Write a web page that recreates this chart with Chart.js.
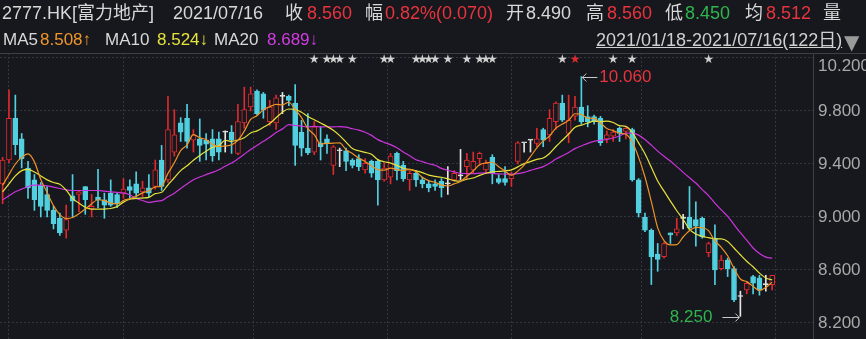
<!DOCTYPE html>
<html>
<head>
<meta charset="utf-8">
<script src="https://cdn.jsdelivr.net/npm/chart.js@4.4.1/dist/chart.umd.min.js"></script>
<style>
html, body { margin: 0; padding: 0; background: #16181d; }
#wrap { position: relative; width: 866px; height: 339px; overflow: hidden; background: #16181d; }
#kline { position: absolute; left: 0; top: 0; }
.t { position: absolute; white-space: nowrap; font: 18px "Liberation Sans", "Noto Sans CJK SC", sans-serif; line-height: 20px; color: #d8d8d8; }
.r1 { top: 3px; }
.r2 { top: 30px; font-size: 17px; }
.red { color: #e8343e; }
.grn { color: #2fb64e; }
.org { color: #f0962a; }
.yel { color: #e6e23c; }
.mag { color: #d33ce2; }
.rng { text-decoration: underline; color: #d0d0d0; font-size: 18px; }
.tri { color: #9a9a9a; font: 20px "DejaVu Sans"; }
</style>
</head>
<body>
<div id="wrap">
  <canvas id="kline" width="866" height="339"></canvas>

  <div class="t r1" style="left:2px">2777.HK[富力地产]</div>
  <div class="t r1" style="left:173px">2021/07/16</div>
  <div class="t r1" style="left:285px">收</div>
  <div class="t r1 red" style="left:307px">8.560</div>
  <div class="t r1" style="left:365px">幅</div>
  <div class="t r1 red" style="left:385px">0.82%(0.070)</div>
  <div class="t r1" style="left:506px">开</div>
  <div class="t r1" style="left:526px">8.490</div>
  <div class="t r1" style="left:586px">高</div>
  <div class="t r1 red" style="left:607px">8.560</div>
  <div class="t r1" style="left:665px">低</div>
  <div class="t r1 grn" style="left:685px">8.450</div>
  <div class="t r1" style="left:745px">均</div>
  <div class="t r1 red" style="left:766px">8.512</div>
  <div class="t r1" style="left:823px">量</div>

  <div class="t r2" style="left:3px">MA5</div>
  <div class="t r2 org" style="left:40px">8.508↑</div>
  <div class="t r2" style="left:105px">MA10</div>
  <div class="t r2 yel" style="left:157px">8.524↓</div>
  <div class="t r2" style="left:214px">MA20</div>
  <div class="t r2 mag" style="left:267px">8.689↓</div>
  <div class="t r2 rng" style="left:596px">2021/01/18-2021/07/16(122日)</div>
  <div class="t tri" style="left:844px;top:30px">▼</div>
</div>

<script>
// daily candles 2021/01/18 .. 2021/07/16 (122 trading days)
const opens = [
  9.25, 9.43, 9.745, 9.59, 9.37, 9.28, 9.24, 9.17, 9.05, 8.99,
  8.90, 9.16, 9.17, 9.23, 9.06, 9.15, 9.13, 9.18, 9.17, 9.18,
  9.23, 9.25, 9.19, 9.22, 9.23, 9.43, 9.28, 9.49, 9.71, 9.745,
  9.58, 9.59, 9.58, 9.59, 9.59, 9.64, 9.64, 9.48, 9.71, 9.83,
  9.95, 9.93, 9.72, 9.71, 9.91, 9.91, 9.86, 9.64, 9.52, 9.49,
  9.56, 9.59, 9.39, 9.50, 9.50, 9.43, 9.44, 9.355, 9.42, 9.42,
  9.28, 9.30, 9.48, 9.39, 9.28, 9.33, 9.28, 9.25, 9.25, 9.27,
  9.25, 9.28, 9.31, 9.38, 9.355, 9.44, 9.355, 9.45, 9.29, 9.29,
  9.29, 9.42, 9.56, 9.58, 9.555, 9.66, 9.62, 9.72, 9.86, 9.63,
  9.76, 9.83, 9.757, 9.757, 9.745, 9.59, 9.61, 9.67, 9.645, 9.66,
  9.28, 9.00, 8.90, 8.72, 8.70, 8.88, 8.88, 8.99, 9.00, 8.98,
  8.99, 8.73, 8.84, 8.61, 8.675, 8.61, 8.40, 8.45, 8.55, 8.54,
  8.49, 8.49
];
const highs = [
  9.45, 9.96, 9.92, 9.63, 9.42, 9.32, 9.26, 9.23, 9.08, 9.03,
  9.09, 9.32, 9.20, 9.23, 9.17, 9.36, 9.18, 9.28, 9.18, 9.29,
  9.28, 9.34, 9.27, 9.32, 9.43, 9.54, 9.91, 9.81, 9.75, 9.85,
  9.66, 9.74, 9.63, 9.66, 9.64, 9.65, 9.69, 9.85, 9.98, 9.98,
  9.96, 9.94, 9.88, 9.92, 9.94, 9.92, 10.00, 9.73, 9.78, 9.72,
  9.68, 9.62, 9.54, 9.52, 9.52, 9.44, 9.47, 9.44, 9.43, 9.43,
  9.41, 9.48, 9.49, 9.42, 9.35, 9.35, 9.30, 9.27, 9.28, 9.29,
  9.38, 9.35, 9.51, 9.48, 9.49, 9.49, 9.43, 9.47, 9.32, 9.38,
  9.34, 9.57, 9.56, 9.58, 9.67, 9.67, 9.81, 9.87, 9.92, 9.92,
  9.91, 10.06, 9.84, 9.77, 9.76, 9.65, 9.66, 9.68, 9.68, 9.67,
  9.29, 9.03, 8.91, 8.80, 8.81, 8.88, 8.99, 9.02, 9.23, 9.115,
  9.00, 8.81, 8.94, 8.71, 8.69, 8.625, 8.44, 8.51, 8.56, 8.56,
  8.56, 8.56
];
const lows = [
  9.10, 9.41, 9.47, 9.37, 9.14, 9.05, 9.00, 9.00, 8.91, 8.86,
  8.84, 9.00, 9.04, 9.02, 9.00, 9.07, 8.99, 9.08, 9.07, 9.14,
  9.14, 9.15, 9.15, 9.15, 9.21, 9.20, 9.26, 9.46, 9.57, 9.52,
  9.49, 9.42, 9.43, 9.42, 9.43, 9.49, 9.48, 9.47, 9.67, 9.80,
  9.77, 9.745, 9.69, 9.66, 9.78, 9.84, 9.39, 9.46, 9.47, 9.47,
  9.43, 9.48, 9.32, 9.38, 9.35, 9.37, 9.35, 9.33, 9.30, 9.09,
  9.27, 9.25, 9.28, 9.27, 9.20, 9.23, 9.22, 9.19, 9.20, 9.15,
  9.17, 9.27, 9.28, 9.29, 9.33, 9.39, 9.33, 9.25, 9.25, 9.24,
  9.23, 9.40, 9.49, 9.49, 9.53, 9.53, 9.57, 9.66, 9.72, 9.56,
  9.73, 9.70, 9.68, 9.70, 9.54, 9.56, 9.57, 9.57, 9.59, 9.27,
  9.00, 8.89, 8.49, 8.59, 8.69, 8.80, 8.86, 8.91, 8.90, 8.78,
  8.84, 8.70, 8.49, 8.60, 8.55, 8.36, 8.25, 8.42, 8.42, 8.41,
  8.44, 8.45
];
const closes = [
  9.43, 9.745, 9.545, 9.44, 9.22, 9.13, 9.08, 9.05, 8.95, 8.88,
  8.98, 9.12, 9.19, 9.13, 9.08, 9.13, 9.09, 9.09, 9.10, 9.21,
  9.20, 9.18, 9.22, 9.18, 9.355, 9.23, 9.66, 9.62, 9.64, 9.57,
  9.62, 9.54, 9.55, 9.46, 9.49, 9.64, 9.58, 9.72, 9.81, 9.93,
  9.78, 9.81, 9.83, 9.90, 9.91, 9.88, 9.54, 9.52, 9.485, 9.68,
  9.53, 9.56, 9.53, 9.50, 9.42, 9.39, 9.38, 9.405, 9.33, 9.28,
  9.37, 9.46, 9.35, 9.29, 9.33, 9.28, 9.25, 9.22, 9.23, 9.22,
  9.25, 9.33, 9.31, 9.43, 9.42, 9.48, 9.405, 9.33, 9.26, 9.26,
  9.32, 9.56, 9.56, 9.58, 9.59, 9.58, 9.745, 9.86, 9.73, 9.73,
  9.83, 9.72, 9.72, 9.72, 9.56, 9.62, 9.64, 9.63, 9.67, 9.28,
  9.03, 8.90, 8.70, 8.68, 8.80, 8.865, 8.91, 8.99, 8.915, 8.93,
  8.85, 8.80, 8.60, 8.675, 8.61, 8.375, 8.40, 8.50, 8.50, 8.45,
  8.49, 8.56
];
const ma5 = [
  9.24, 9.32, 9.40, 9.45, 9.476, 9.416, 9.283, 9.184, 9.086, 9.018,
  8.988, 8.996, 9.024, 9.06, 9.10, 9.13, 9.124, 9.104, 9.098, 9.124,
  9.138, 9.156, 9.182, 9.198, 9.227, 9.233, 9.329, 9.409, 9.501, 9.544,
  9.622, 9.598, 9.584, 9.548, 9.532, 9.536, 9.544, 9.578, 9.648, 9.736,
  9.764, 9.81, 9.832, 9.85, 9.846, 9.866, 9.812, 9.75, 9.667, 9.621,
  9.551, 9.555, 9.557, 9.56, 9.508, 9.48, 9.444, 9.419, 9.385, 9.357,
  9.353, 9.369, 9.358, 9.35, 9.36, 9.342, 9.30, 9.274, 9.262, 9.24,
  9.234, 9.25, 9.268, 9.308, 9.348, 9.394, 9.409, 9.413, 9.379, 9.347,
  9.315, 9.346, 9.392, 9.456, 9.522, 9.574, 9.611, 9.671, 9.701, 9.729,
  9.779, 9.774, 9.746, 9.744, 9.71, 9.668, 9.652, 9.634, 9.624, 9.568,
  9.45, 9.302, 9.116, 8.918, 8.822, 8.789, 8.791, 8.849, 8.896, 8.922,
  8.919, 8.897, 8.819, 8.771, 8.707, 8.612, 8.532, 8.512, 8.477, 8.445,
  8.468, 8.508
];
const ma10 = [
  9.19, 9.25, 9.31, 9.35, 9.36, 9.34, 9.31, 9.28, 9.26, 9.247,
  9.202, 9.14, 9.104, 9.073, 9.059, 9.059, 9.06, 9.064, 9.079, 9.112,
  9.134, 9.14, 9.143, 9.148, 9.176, 9.186, 9.243, 9.296, 9.35, 9.386,
  9.428, 9.464, 9.497, 9.525, 9.538, 9.579, 9.571, 9.581, 9.598, 9.634,
  9.65, 9.677, 9.705, 9.749, 9.791, 9.815, 9.811, 9.791, 9.759, 9.734,
  9.709, 9.684, 9.654, 9.614, 9.565, 9.516, 9.50, 9.488, 9.473, 9.433,
  9.417, 9.407, 9.389, 9.368, 9.359, 9.348, 9.335, 9.316, 9.306, 9.30,
  9.288, 9.275, 9.271, 9.285, 9.294, 9.314, 9.33, 9.341, 9.344, 9.348,
  9.355, 9.378, 9.403, 9.418, 9.435, 9.445, 9.479, 9.532, 9.579, 9.626,
  9.677, 9.693, 9.709, 9.723, 9.72, 9.724, 9.713, 9.69, 9.684, 9.639,
  9.559, 9.477, 9.375, 9.271, 9.195, 9.12, 9.047, 8.983, 8.907, 8.872,
  8.854, 8.844, 8.834, 8.834, 8.815, 8.766, 8.715, 8.666, 8.624, 8.576,
  8.54, 8.524
];
const ma20 = [
  9.13, 9.16, 9.19, 9.21, 9.23, 9.24, 9.24, 9.235, 9.225, 9.215,
  9.205, 9.20, 9.20, 9.20, 9.20, 9.20, 9.195, 9.19, 9.185, 9.18,
  9.168, 9.14, 9.124, 9.11, 9.118, 9.123, 9.152, 9.18, 9.215, 9.249,
  9.281, 9.302, 9.32, 9.337, 9.357, 9.383, 9.407, 9.439, 9.474, 9.51,
  9.539, 9.571, 9.601, 9.637, 9.665, 9.697, 9.691, 9.686, 9.679, 9.684,
  9.68, 9.681, 9.68, 9.682, 9.678, 9.666, 9.656, 9.64, 9.616, 9.584,
  9.563, 9.546, 9.522, 9.491, 9.462, 9.432, 9.418, 9.402, 9.39, 9.367,
  9.353, 9.341, 9.33, 9.327, 9.327, 9.331, 9.333, 9.329, 9.325, 9.324,
  9.322, 9.327, 9.337, 9.352, 9.365, 9.38, 9.405, 9.437, 9.462, 9.487,
  9.516, 9.536, 9.556, 9.571, 9.578, 9.585, 9.596, 9.611, 9.632, 9.633,
  9.618, 9.585, 9.542, 9.497, 9.458, 9.422, 9.38, 9.337, 9.296, 9.256,
  9.207, 9.161, 9.105, 9.053, 9.005, 8.943, 8.881, 8.825, 8.766, 8.724,
  8.697, 8.689
];
// first trading day of each month (Feb..Jul) -> vertical grid lines
const monthStarts = [10, 28, 51, 70, 90, 111];
const yTicks = [8.2, 8.6, 9.0, 9.4, 9.8, 10.2];
// news markers above the candles
const starDays = [49, 51, 52, 53, 55, 60, 61, 65, 66, 67, 68, 70, 73, 75, 76, 77, 88, 96, 99, 111];
const redStarDays = [90];

const BG = '#16181d';
const RED = '#dc2a2e';
const CYAN = '#52d0e0';
const WHITE = '#e4e4e4';
const GRID = '#33363d';
const FRAME = '#3c3f46';

const idx = closes.map((c, i) => i);
const candleColor = i => closes[i] === opens[i] ? WHITE : (closes[i] > opens[i] ? RED : CYAN);

const overlay = {
    id: 'overlay',
    afterDraw(chart) {
        const { ctx, chartArea: a, scales: { x, y } } = chart;
        ctx.save();
        // frame
        ctx.strokeStyle = FRAME;
        ctx.lineWidth = 1;
        ctx.beginPath();
        ctx.moveTo(0, a.top + 0.5); ctx.lineTo(chart.width, a.top + 0.5);
        ctx.moveTo(a.right + 0.5, a.top); ctx.lineTo(a.right + 0.5, a.bottom);
        ctx.stroke();

        // price labels on the right
        ctx.font = '17px "Liberation Sans"';
        ctx.fillStyle = '#a9a9a9';
        ctx.textAlign = 'left';
        ctx.textBaseline = 'middle';
        yTicks.forEach(v => {
            const py = Math.max(y.getPixelForValue(v), a.top + 13);
            ctx.fillText(v.toFixed(3), a.right + 5, py);
        });

        // stars
        ctx.font = '12px "DejaVu Sans"';
        ctx.textAlign = 'center';
        ctx.fillStyle = '#d0d0d0';
        starDays.forEach(d => ctx.fillText('★', x.getPixelForValue(d), a.top + 7));
        ctx.fillStyle = RED;
        redStarDays.forEach(d => ctx.fillText('★', x.getPixelForValue(d), a.top + 7));

        // highest / lowest markers
        let hi = 0, lo = 0;
        highs.forEach((v, i) => { if (v > highs[hi]) hi = i; });
        lows.forEach((v, i) => { if (v < lows[lo]) lo = i; });
        ctx.strokeStyle = '#c8c8c8';
        ctx.font = '17px "Liberation Sans"';

        const hx = x.getPixelForValue(hi), hy = Math.round(y.getPixelForValue(highs[hi])) + 0.5;
        ctx.beginPath();
        ctx.moveTo(hx + 1, hy); ctx.lineTo(hx + 16, hy);
        ctx.moveTo(hx + 5, hy - 4); ctx.lineTo(hx + 1, hy); ctx.lineTo(hx + 5, hy + 4);
        ctx.stroke();
        ctx.fillStyle = '#e8343e';
        ctx.textAlign = 'left';
        ctx.fillText(highs[hi].toFixed(3), hx + 18, hy);

        const lx = x.getPixelForValue(lo), ly = Math.round(y.getPixelForValue(lows[lo])) + 1.5;
        ctx.beginPath();
        ctx.moveTo(lx - 18, ly); ctx.lineTo(lx - 1, ly);
        ctx.moveTo(lx - 5, ly - 4); ctx.lineTo(lx - 1, ly); ctx.lineTo(lx - 5, ly + 4);
        ctx.stroke();
        ctx.fillStyle = '#2fb64e';
        ctx.textAlign = 'right';
        ctx.fillText(lows[lo].toFixed(3), lx - 28, ly);
        ctx.restore();
    }
};

const maLine = (vals, color, order) => ({
    type: 'line',
    data: idx.map(i => ({ x: i, y: vals[i] })),
    borderColor: color,
    borderWidth: 1.2,
    pointRadius: 0,
    cubicInterpolationMode: 'monotone',
    order: order
});

new Chart(document.getElementById('kline'), {
    type: 'bar',
    data: {
        datasets: [
            maLine(ma5, '#ee9426', 0),
            maLine(ma10, '#e6e23c', 0),
            maLine(ma20, '#cc34dc', 0),
            {
                // bodies
                data: idx.map(i => ({ x: i, y: [opens[i], closes[i]] })),
                backgroundColor: idx.map(i => closes[i] > opens[i] ? BG : candleColor(i)),
                borderColor: idx.map(candleColor),
                borderWidth: 1,
                borderSkipped: false,
                barThickness: 5,
                minBarLength: 1,
                grouped: false,
                order: 2
            },
            {
                // wicks
                data: idx.map(i => ({ x: i, y: [lows[i], highs[i]] })),
                backgroundColor: idx.map(candleColor),
                barThickness: 1,
                grouped: false,
                order: 3
            }
        ]
    },
    options: {
        responsive: false,
        animation: false,
        devicePixelRatio: 1,
        layout: { padding: { top: 53, left: 0, right: 0, bottom: 0 } },
        plugins: { legend: { display: false }, tooltip: { enabled: false } },
        scales: {
            x: {
                type: 'linear', min: -0.41, max: 127.42, offset: false,
                afterBuildTicks: s => { s.ticks = monthStarts.map(v => ({ value: v })); },
                afterFit: s => { s.height = 0; },
                ticks: { display: false },
                grid: { color: GRID, drawTicks: false },
                border: { display: false, dash: [2, 2] }
            },
            y: {
                position: 'right', min: 8.079, max: 10.2377,
                afterBuildTicks: s => { s.ticks = yTicks.map(v => ({ value: v })); },
                afterFit: s => { s.width = 53; },
                ticks: { display: false },
                grid: { color: GRID, drawTicks: false },
                border: { display: false, dash: [2, 2] }
            }
        }
    },
    plugins: [overlay]
});
</script>
</body>
</html>
